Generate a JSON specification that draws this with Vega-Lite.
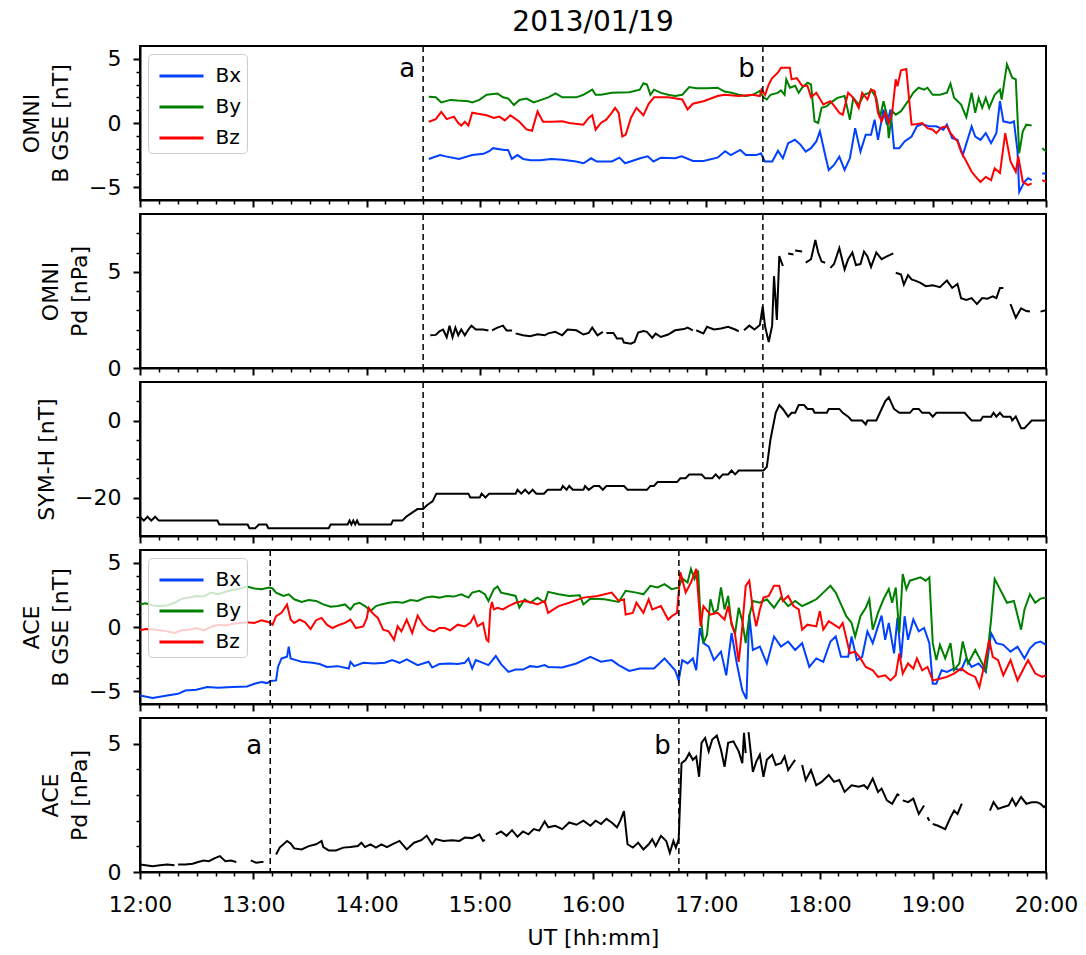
{
  "$schema": "https://vega.github.io/schema/vega-lite/v6.json",
  "background": "white",
  "padding": {"left": 19, "top": 8, "right": 8, "bottom": 0},
  "spacing": 14,
  "bounds": "flush",
  "resolve": {"legend": {"color": "independent"}},
  "config": {
    "font": "DejaVu Sans",
    "view": {"stroke": "black", "strokeWidth": 2},
    "mark": {"invalid": "break-paths-show-domains"},
    "axis": {"domainColor": "black", "domainWidth": 2, "tickColor": "black", "labelColor": "black", "labelFont": "DejaVu Sans", "labelFontSize": 22, "titleFont": "DejaVu Sans", "titleFontSize": 22, "titleFontWeight": "normal", "titleColor": "black", "grid": false, "titlePadding": 16, "titleLineHeight": 29, "labelOverlap": false, "tickSize": 7, "tickWidth": 2},
    "axisX": {"labelFlush": false, "labelPadding": 15},
    "axisY": {"labelPadding": 12}
  },
  "datasets": {
    "omniB": [
      {"t":873,"s":"Bx","v":-2.8},{"t":879,"s":"Bx","v":-2.5},{"t":882,"s":"Bx","v":-2.6},{"t":889,"s":"Bx","v":-2.8},{"t":896,"s":"Bx","v":-2.5},{"t":902,"s":"Bx","v":-2.4},{"t":905,"s":"Bx","v":-2.2},{"t":907,"s":"Bx","v":-1.96},{"t":913,"s":"Bx","v":-2.1},{"t":915,"s":"Bx","v":-2.1},{"t":917,"s":"Bx","v":-2.8},{"t":920,"s":"Bx","v":-2.5},{"t":923,"s":"Bx","v":-2.8},{"t":927,"s":"Bx","v":-2.9},{"t":932,"s":"Bx","v":-2.9},{"t":938,"s":"Bx","v":-2.8},{"t":944,"s":"Bx","v":-2.86},{"t":951,"s":"Bx","v":-3.0},{"t":955,"s":"Bx","v":-3.14},{"t":959,"s":"Bx","v":-2.75},{"t":962,"s":"Bx","v":-3.0},{"t":970,"s":"Bx","v":-3.0},{"t":974,"s":"Bx","v":-2.7},{"t":977,"s":"Bx","v":-3.14},{"t":985,"s":"Bx","v":-2.75},{"t":989,"s":"Bx","v":-2.6},{"t":992,"s":"Bx","v":-3.0},{"t":996,"s":"Bx","v":-2.7},{"t":1003.5,"s":"Bx","v":-2.75},{"t":1007,"s":"Bx","v":-2.6},{"t":1013,"s":"Bx","v":-2.96},{"t":1018.5,"s":"Bx","v":-2.96},{"t":1026,"s":"Bx","v":-2.7},{"t":1030,"s":"Bx","v":-2.2},{"t":1033,"s":"Bx","v":-2.5},{"t":1038,"s":"Bx","v":-2.1},{"t":1041,"s":"Bx","v":-2.5},{"t":1046.5,"s":"Bx","v":-2.5},{"t":1049,"s":"Bx","v":-2.36},{"t":1051,"s":"Bx","v":-3.0},{"t":1055,"s":"Bx","v":-3.0},{"t":1058,"s":"Bx","v":-2.16},{"t":1060.6,"s":"Bx","v":-2.75},{"t":1063.4,"s":"Bx","v":-1.57},{"t":1067,"s":"Bx","v":-1.31},{"t":1070,"s":"Bx","v":-1.7},{"t":1072.7,"s":"Bx","v":-2.23},{"t":1075.5,"s":"Bx","v":-1.96},{"t":1078.3,"s":"Bx","v":-1.44},{"t":1080.2,"s":"Bx","v":-0.65},{"t":1083,"s":"Bx","v":-2.5},{"t":1084.9,"s":"Bx","v":-3.66},{"t":1087.7,"s":"Bx","v":-3.27},{"t":1090.5,"s":"Bx","v":-2.62},{"t":1093.3,"s":"Bx","v":-3.66},{"t":1096.1,"s":"Bx","v":-2.75},{"t":1098.9,"s":"Bx","v":-0.4},{"t":1101.7,"s":"Bx","v":-2.23},{"t":1104.5,"s":"Bx","v":-0.92},{"t":1107.3,"s":"Bx","v":-0.92},{"t":1109.2,"s":"Bx","v":0.26},{"t":1111,"s":"Bx","v":-1.31},{"t":1113.9,"s":"Bx","v":1.05},{"t":1115.7,"s":"Bx","v":-0.13},{"t":1117.6,"s":"Bx","v":1.05},{"t":1119.5,"s":"Bx","v":-1.96},{"t":1122.3,"s":"Bx","v":-1.96},{"t":1125.1,"s":"Bx","v":-1.44},{"t":1128.8,"s":"Bx","v":-1.05},{"t":1131.6,"s":"Bx","v":-0.26},{"t":1134.4,"s":"Bx","v":-0.08},{"t":1138.2,"s":"Bx","v":-0.26},{"t":1141.9,"s":"Bx","v":-0.26},{"t":1145.6,"s":"Bx","v":-0.52},{"t":1147.5,"s":"Bx","v":-0.13},{"t":1150.3,"s":"Bx","v":-1.18},{"t":1153.1,"s":"Bx","v":-1.31},{"t":1155.9,"s":"Bx","v":-2.5},{"t":1158.7,"s":"Bx","v":-1.18},{"t":1160.6,"s":"Bx","v":-0.26},{"t":1162.5,"s":"Bx","v":-1.05},{"t":1165.3,"s":"Bx","v":-1.31},{"t":1168.1,"s":"Bx","v":-0.79},{"t":1170.9,"s":"Bx","v":-1.57},{"t":1173.7,"s":"Bx","v":-0.79},{"t":1175.6,"s":"Bx","v":1.7},{"t":1177.4,"s":"Bx","v":0.13},{"t":1181.2,"s":"Bx","v":0.0},{"t":1183,"s":"Bx","v":0.13},{"t":1184.9,"s":"Bx","v":-2.2},{"t":1185.8,"s":"Bx","v":-5.37},{"t":1188.6,"s":"Bx","v":-4.58},{"t":1190.5,"s":"Bx","v":-4.3},{"t":1192.4,"s":"Bx","v":-4.45},{"t":1195,"s":"Bx","v":null},{"t":1198,"s":"Bx","v":-3.93},{"t":1200,"s":"Bx","v":-3.93},
      {"t":873,"s":"By","v":2.04},{"t":876.7,"s":"By","v":2.0},{"t":879.6,"s":"By","v":1.6},{"t":884.4,"s":"By","v":1.8},{"t":888.3,"s":"By","v":1.75},{"t":894,"s":"By","v":1.7},{"t":896,"s":"By","v":1.6},{"t":899.8,"s":"By","v":1.8},{"t":903.7,"s":"By","v":2.2},{"t":909.4,"s":"By","v":2.3},{"t":912.3,"s":"By","v":2.0},{"t":915.2,"s":"By","v":1.9},{"t":918.1,"s":"By","v":1.4},{"t":921,"s":"By","v":1.8},{"t":924.8,"s":"By","v":1.9},{"t":928.6,"s":"By","v":1.6},{"t":932.5,"s":"By","v":1.8},{"t":936.3,"s":"By","v":2.0},{"t":940.2,"s":"By","v":2.3},{"t":943.7,"s":"By","v":2.0},{"t":947.4,"s":"By","v":2.0},{"t":951.2,"s":"By","v":2.0},{"t":954.9,"s":"By","v":2.2},{"t":959.6,"s":"By","v":2.6},{"t":961.4,"s":"By","v":2.2},{"t":964.2,"s":"By","v":2.2},{"t":969.9,"s":"By","v":2.35},{"t":979.2,"s":"By","v":2.4},{"t":984.8,"s":"By","v":2.6},{"t":986.7,"s":"By","v":3.1},{"t":988.6,"s":"By","v":3.0},{"t":990.4,"s":"By","v":2.2},{"t":992.3,"s":"By","v":2.6},{"t":996,"s":"By","v":2.35},{"t":999.8,"s":"By","v":2.2},{"t":1003.5,"s":"By","v":2.1},{"t":1007.3,"s":"By","v":2.2},{"t":1011,"s":"By","v":2.8},{"t":1014.7,"s":"By","v":2.7},{"t":1020.4,"s":"By","v":2.7},{"t":1026,"s":"By","v":2.75},{"t":1029.7,"s":"By","v":2.45},{"t":1033.4,"s":"By","v":2.35},{"t":1037.2,"s":"By","v":2.2},{"t":1040.9,"s":"By","v":2.1},{"t":1044.7,"s":"By","v":2.2},{"t":1048.4,"s":"By","v":2.5},{"t":1050.3,"s":"By","v":2.0},{"t":1052.1,"s":"By","v":1.83},{"t":1054,"s":"By","v":2.2},{"t":1057.8,"s":"By","v":2.35},{"t":1059.6,"s":"By","v":2.55},{"t":1061.5,"s":"By","v":2.2},{"t":1062.4,"s":"By","v":3.4},{"t":1064.3,"s":"By","v":2.75},{"t":1067.1,"s":"By","v":2.9},{"t":1069,"s":"By","v":2.35},{"t":1070.8,"s":"By","v":2.75},{"t":1073.7,"s":"By","v":3.14},{"t":1075.5,"s":"By","v":3.0},{"t":1076.5,"s":"By","v":1.44},{"t":1077.4,"s":"By","v":0.13},{"t":1079.3,"s":"By","v":0.0},{"t":1081.1,"s":"By","v":1.18},{"t":1083.9,"s":"By","v":1.31},{"t":1085.8,"s":"By","v":1.57},{"t":1089.5,"s":"By","v":1.96},{"t":1093.3,"s":"By","v":2.1},{"t":1096.1,"s":"By","v":0.26},{"t":1097.9,"s":"By","v":1.96},{"t":1100.8,"s":"By","v":1.44},{"t":1103.6,"s":"By","v":2.2},{"t":1106.4,"s":"By","v":2.36},{"t":1107.3,"s":"By","v":2.6},{"t":1110.1,"s":"By","v":1.96},{"t":1112,"s":"By","v":0.4},{"t":1113.9,"s":"By","v":1.7},{"t":1115.7,"s":"By","v":0.65},{"t":1116.7,"s":"By","v":-1.18},{"t":1118.5,"s":"By","v":0.92},{"t":1120.4,"s":"By","v":0.65},{"t":1123.2,"s":"By","v":0.92},{"t":1126.9,"s":"By","v":1.7},{"t":1129.7,"s":"By","v":2.36},{"t":1132.5,"s":"By","v":2.75},{"t":1135.4,"s":"By","v":2.6},{"t":1137.2,"s":"By","v":2.75},{"t":1140,"s":"By","v":2.2},{"t":1143.8,"s":"By","v":2.2},{"t":1147.5,"s":"By","v":2.36},{"t":1149.4,"s":"By","v":3.06},{"t":1151.3,"s":"By","v":1.96},{"t":1155,"s":"By","v":1.44},{"t":1157.8,"s":"By","v":0.45},{"t":1160.6,"s":"By","v":2.36},{"t":1162.5,"s":"By","v":0.79},{"t":1164.3,"s":"By","v":1.96},{"t":1166.2,"s":"By","v":1.18},{"t":1168.1,"s":"By","v":1.96},{"t":1169.9,"s":"By","v":1.18},{"t":1172.8,"s":"By","v":2.2},{"t":1175.6,"s":"By","v":2.6},{"t":1176.5,"s":"By","v":1.83},{"t":1179.3,"s":"By","v":4.58},{"t":1182.1,"s":"By","v":3.53},{"t":1184,"s":"By","v":3.4},{"t":1185.8,"s":"By","v":-2.36},{"t":1187.7,"s":"By","v":-0.65},{"t":1189.6,"s":"By","v":-0.13},{"t":1192.4,"s":"By","v":-0.2},{"t":1195,"s":"By","v":null},{"t":1198,"s":"By","v":-1.96},{"t":1200,"s":"By","v":-2.2},
      {"t":873,"s":"Bz","v":0.1},{"t":876.7,"s":"Bz","v":0.3},{"t":879.6,"s":"Bz","v":0.86},{"t":882.5,"s":"Bz","v":0.3},{"t":886.3,"s":"Bz","v":0.5},{"t":888.6,"s":"Bz","v":0.0},{"t":890.2,"s":"Bz","v":-0.2},{"t":892.1,"s":"Bz","v":0.1},{"t":894,"s":"Bz","v":-0.2},{"t":896,"s":"Bz","v":0.8},{"t":899.8,"s":"Bz","v":0.7},{"t":903.6,"s":"Bz","v":0.6},{"t":907.5,"s":"Bz","v":0.4},{"t":910.4,"s":"Bz","v":0.5},{"t":913.3,"s":"Bz","v":0.2},{"t":916.2,"s":"Bz","v":0.6},{"t":919.1,"s":"Bz","v":0.3},{"t":921,"s":"Bz","v":0.1},{"t":924.8,"s":"Bz","v":-0.5},{"t":927.7,"s":"Bz","v":-0.6},{"t":930.6,"s":"Bz","v":0.9},{"t":933.5,"s":"Bz","v":0.1},{"t":938.3,"s":"Bz","v":0.1},{"t":943.7,"s":"Bz","v":0.13},{"t":947.4,"s":"Bz","v":0.0},{"t":954.9,"s":"Bz","v":-0.13},{"t":957.7,"s":"Bz","v":0.4},{"t":959.6,"s":"Bz","v":0.6},{"t":961.4,"s":"Bz","v":-0.52},{"t":964.2,"s":"Bz","v":0.0},{"t":967,"s":"Bz","v":0.26},{"t":969.9,"s":"Bz","v":0.79},{"t":971.7,"s":"Bz","v":1.18},{"t":973.6,"s":"Bz","v":0.79},{"t":975.5,"s":"Bz","v":-1.05},{"t":977.3,"s":"Bz","v":-0.92},{"t":980.1,"s":"Bz","v":0.4},{"t":983,"s":"Bz","v":1.18},{"t":986.7,"s":"Bz","v":0.6},{"t":989.5,"s":"Bz","v":1.5},{"t":992.3,"s":"Bz","v":2.0},{"t":999.8,"s":"Bz","v":2.0},{"t":1007.3,"s":"Bz","v":1.83},{"t":1010.1,"s":"Bz","v":1.05},{"t":1012.9,"s":"Bz","v":1.5},{"t":1018.5,"s":"Bz","v":1.7},{"t":1026,"s":"Bz","v":2.1},{"t":1029.7,"s":"Bz","v":2.2},{"t":1037.2,"s":"Bz","v":2.1},{"t":1044.7,"s":"Bz","v":2.2},{"t":1048.4,"s":"Bz","v":2.1},{"t":1049.3,"s":"Bz","v":2.6},{"t":1051.2,"s":"Bz","v":2.2},{"t":1053.1,"s":"Bz","v":3.0},{"t":1054.9,"s":"Bz","v":3.5},{"t":1057.8,"s":"Bz","v":3.9},{"t":1059.6,"s":"Bz","v":4.3},{"t":1064.3,"s":"Bz","v":4.3},{"t":1065.2,"s":"Bz","v":3.4},{"t":1068,"s":"Bz","v":3.5},{"t":1070.8,"s":"Bz","v":2.9},{"t":1073.6,"s":"Bz","v":2.9},{"t":1075.5,"s":"Bz","v":2.0},{"t":1078.3,"s":"Bz","v":2.36},{"t":1082,"s":"Bz","v":1.44},{"t":1085.8,"s":"Bz","v":1.7},{"t":1088.6,"s":"Bz","v":1.18},{"t":1090.5,"s":"Bz","v":0.79},{"t":1092.3,"s":"Bz","v":0.65},{"t":1095.2,"s":"Bz","v":2.36},{"t":1097,"s":"Bz","v":2.1},{"t":1098.9,"s":"Bz","v":1.7},{"t":1100.8,"s":"Bz","v":1.18},{"t":1102.6,"s":"Bz","v":2.36},{"t":1105.4,"s":"Bz","v":1.83},{"t":1107.3,"s":"Bz","v":2.6},{"t":1109.2,"s":"Bz","v":2.5},{"t":1111,"s":"Bz","v":0.79},{"t":1112.9,"s":"Bz","v":0.13},{"t":1114.8,"s":"Bz","v":0.79},{"t":1116.7,"s":"Bz","v":0.0},{"t":1118.5,"s":"Bz","v":0.79},{"t":1120.4,"s":"Bz","v":3.4},{"t":1121.3,"s":"Bz","v":2.87},{"t":1123.2,"s":"Bz","v":4.1},{"t":1126,"s":"Bz","v":4.2},{"t":1127.9,"s":"Bz","v":1.18},{"t":1128.8,"s":"Bz","v":-0.13},{"t":1131.6,"s":"Bz","v":-0.08},{"t":1134.4,"s":"Bz","v":0.0},{"t":1137.2,"s":"Bz","v":-0.4},{"t":1140,"s":"Bz","v":-0.52},{"t":1141.9,"s":"Bz","v":-0.79},{"t":1144.7,"s":"Bz","v":-0.34},{"t":1147.5,"s":"Bz","v":-0.26},{"t":1149.4,"s":"Bz","v":-0.79},{"t":1153.1,"s":"Bz","v":-1.44},{"t":1155,"s":"Bz","v":-2.23},{"t":1157.8,"s":"Bz","v":-3.0},{"t":1160.6,"s":"Bz","v":-3.8},{"t":1163.4,"s":"Bz","v":-4.3},{"t":1165.3,"s":"Bz","v":-4.6},{"t":1168.1,"s":"Bz","v":-4.2},{"t":1170.9,"s":"Bz","v":-4.45},{"t":1172.8,"s":"Bz","v":-3.53},{"t":1175.6,"s":"Bz","v":-3.9},{"t":1178.4,"s":"Bz","v":-0.79},{"t":1181.2,"s":"Bz","v":-3.0},{"t":1184,"s":"Bz","v":-3.8},{"t":1185.3,"s":"Bz","v":-2.6},{"t":1187.7,"s":"Bz","v":-4.58},{"t":1190.5,"s":"Bz","v":-4.84},{"t":1192.4,"s":"Bz","v":-4.7},{"t":1195,"s":"Bz","v":null},{"t":1198,"s":"Bz","v":-4.45},{"t":1200,"s":"Bz","v":-4.58}
    ],
    "omniPd": [
      {"t":873.8,"v":1.7},{"t":876.7,"v":1.72},{"t":878.6,"v":1.9},{"t":880.6,"v":2.0},{"t":882.5,"v":1.6},{"t":884,"v":2.2},{"t":885.6,"v":1.6},{"t":887.1,"v":2.1},{"t":888.6,"v":1.7},{"t":890.2,"v":2.0},{"t":892.1,"v":1.7},{"t":894,"v":2.0},{"t":895.6,"v":2.2},{"t":897.9,"v":2.0},{"t":901.7,"v":2.0},{"t":904.6,"v":1.95},{"t":905.5,"v":null},{"t":906.5,"v":1.95},{"t":909.4,"v":2.1},{"t":912.3,"v":2.2},{"t":914.2,"v":1.95},{"t":917.1,"v":1.95},{"t":918,"v":null},{"t":919,"v":1.8},{"t":922.9,"v":1.7},{"t":926.7,"v":1.65},{"t":930.6,"v":1.75},{"t":934.4,"v":1.7},{"t":936.3,"v":1.8},{"t":940,"v":1.88},{"t":943.7,"v":1.7},{"t":946.5,"v":2.0},{"t":951.2,"v":1.96},{"t":954.9,"v":1.74},{"t":957.7,"v":1.82},{"t":959.6,"v":2.1},{"t":962.4,"v":1.7},{"t":965.2,"v":1.88},{"t":966,"v":null},{"t":967.1,"v":1.82},{"t":970.8,"v":1.82},{"t":972.7,"v":1.53},{"t":975.5,"v":1.53},{"t":976.4,"v":1.32},{"t":980.1,"v":1.26},{"t":982,"v":1.35},{"t":983.9,"v":1.84},{"t":986.7,"v":1.92},{"t":988.6,"v":1.88},{"t":991.4,"v":1.56},{"t":993.2,"v":1.79},{"t":996,"v":1.61},{"t":999.8,"v":1.74},{"t":1003.5,"v":1.96},{"t":1008.2,"v":2.02},{"t":1010.1,"v":2.1},{"t":1012.9,"v":1.96},{"t":1013.8,"v":null},{"t":1014.7,"v":1.96},{"t":1018.5,"v":1.79},{"t":1020.4,"v":2.14},{"t":1024.1,"v":2.0},{"t":1027.8,"v":2.05},{"t":1031.6,"v":2.14},{"t":1035.3,"v":2.0},{"t":1037.2,"v":1.91},{"t":1038.5,"v":null},{"t":1040,"v":1.96},{"t":1042.8,"v":2.2},{"t":1045.6,"v":2.0},{"t":1048.4,"v":2.23},{"t":1049.9,"v":3.2},{"t":1051.2,"v":2.14},{"t":1053.1,"v":1.35},{"t":1054.9,"v":2.2},{"t":1055.9,"v":4.77},{"t":1057.4,"v":2.5},{"t":1058.7,"v":5.82},{"t":1060.6,"v":5.3},{"t":1062,"v":null},{"t":1063.4,"v":5.95},{"t":1066.2,"v":5.9},{"t":1066.6,"v":null},{"t":1067.1,"v":6.1},{"t":1070.8,"v":6.05},{"t":1071.7,"v":null},{"t":1072.7,"v":5.47},{"t":1075.5,"v":5.65},{"t":1077.8,"v":6.65},{"t":1079.3,"v":6.0},{"t":1081.1,"v":5.53},{"t":1083,"v":5.47},{"t":1084.4,"v":null},{"t":1085.8,"v":5.2},{"t":1087.7,"v":5.4},{"t":1090.5,"v":6.23},{"t":1093.3,"v":5.12},{"t":1095.2,"v":5.65},{"t":1097.4,"v":6.0},{"t":1099.3,"v":5.35},{"t":1101.7,"v":5.4},{"t":1103.6,"v":6.05},{"t":1105.4,"v":5.8},{"t":1107.3,"v":5.25},{"t":1110.1,"v":6.0},{"t":1112.9,"v":5.65},{"t":1115.7,"v":5.8},{"t":1119.1,"v":5.95},{"t":1119.8,"v":null},{"t":1120.4,"v":4.95},{"t":1123.2,"v":4.86},{"t":1124.7,"v":4.33},{"t":1126.9,"v":4.82},{"t":1128.8,"v":4.6},{"t":1130.7,"v":4.54},{"t":1133.5,"v":4.42},{"t":1136.3,"v":4.25},{"t":1140,"v":4.3},{"t":1143.8,"v":4.2},{"t":1145.6,"v":4.37},{"t":1147.5,"v":4.54},{"t":1150.3,"v":4.16},{"t":1153.1,"v":4.37},{"t":1155,"v":3.63},{"t":1157.8,"v":3.54},{"t":1160.6,"v":3.63},{"t":1163.4,"v":3.32},{"t":1166.2,"v":3.63},{"t":1169,"v":3.6},{"t":1171.8,"v":3.72},{"t":1173.7,"v":3.63},{"t":1175.6,"v":4.16},{"t":1177.4,"v":4.16},{"t":1179,"v":null},{"t":1181.2,"v":3.32},{"t":1184,"v":2.61},{"t":1186.8,"v":3.1},{"t":1189.6,"v":2.96},{"t":1191.5,"v":2.93},{"t":1192.5,"v":null},{"t":1194.3,"v":2.93},{"t":1195.5,"v":null},{"t":1197.1,"v":2.93},{"t":1199.9,"v":3.0}
    ],
    "symh": [
      {"t":720,"v":-25},{"t":722,"v":-26},{"t":724,"v":-25},{"t":726,"v":-26},{"t":728,"v":-25},{"t":730,"v":-26},{"t":761,"v":-26},{"t":762,"v":-27},{"t":777,"v":-27},{"t":778,"v":-28},{"t":781,"v":-28},{"t":783,"v":-27},{"t":787,"v":-27},{"t":788,"v":-28},{"t":820,"v":-28},{"t":821,"v":-27},{"t":830,"v":-27},{"t":831,"v":-26},{"t":832,"v":-27},{"t":833,"v":-26},{"t":834,"v":-27},{"t":835,"v":-26},{"t":836,"v":-27},{"t":853,"v":-27},{"t":854,"v":-26},{"t":859,"v":-26},{"t":861,"v":-25},{"t":864,"v":-24},{"t":867,"v":-23},{"t":870,"v":-23},{"t":872,"v":-22},{"t":875,"v":-21},{"t":877,"v":-19},{"t":894,"v":-19},{"t":895,"v":-20},{"t":900,"v":-20},{"t":901,"v":-19},{"t":903,"v":-20},{"t":905,"v":-19},{"t":919,"v":-19},{"t":920,"v":-18},{"t":922,"v":-19},{"t":924,"v":-18},{"t":926,"v":-19},{"t":928,"v":-18},{"t":930,"v":-19},{"t":934,"v":-19},{"t":936,"v":-18},{"t":943,"v":-18},{"t":944,"v":-17},{"t":946,"v":-18},{"t":947.4,"v":-17},{"t":949.3,"v":-18},{"t":954.9,"v":-18},{"t":955.8,"v":-17},{"t":957.7,"v":-18},{"t":960.5,"v":-17},{"t":963.3,"v":-17},{"t":965.2,"v":-18},{"t":967.1,"v":-17},{"t":976.4,"v":-17},{"t":978.3,"v":-18},{"t":988.6,"v":-18},{"t":990.4,"v":-17},{"t":992.3,"v":-17},{"t":994.2,"v":-16},{"t":1004.5,"v":-16},{"t":1006.3,"v":-15},{"t":1009.1,"v":-15},{"t":1011,"v":-14},{"t":1017.5,"v":-14},{"t":1019.4,"v":-15},{"t":1023.2,"v":-15},{"t":1025,"v":-14},{"t":1026.9,"v":-15},{"t":1028.8,"v":-14},{"t":1031.6,"v":-14},{"t":1033.4,"v":-13},{"t":1035.3,"v":-14},{"t":1037.2,"v":-13},{"t":1050.3,"v":-13},{"t":1052.1,"v":-12},{"t":1054,"v":-5},{"t":1056.8,"v":2},{"t":1058.7,"v":4},{"t":1060.6,"v":3},{"t":1063.4,"v":1},{"t":1065.2,"v":2},{"t":1067.1,"v":2},{"t":1069,"v":4},{"t":1071.8,"v":4},{"t":1073.6,"v":3},{"t":1076.4,"v":3},{"t":1077.4,"v":2},{"t":1083.9,"v":2},{"t":1084.9,"v":3},{"t":1090.5,"v":3},{"t":1092.3,"v":2},{"t":1095.2,"v":1},{"t":1097,"v":0},{"t":1102.6,"v":0},{"t":1104.5,"v":-1},{"t":1105.4,"v":0},{"t":1110.1,"v":0},{"t":1114.8,"v":5},{"t":1116.7,"v":6},{"t":1119.5,"v":3},{"t":1122.3,"v":2},{"t":1127.9,"v":2},{"t":1129.7,"v":3},{"t":1132.6,"v":3},{"t":1134.4,"v":2},{"t":1138.2,"v":2},{"t":1140,"v":1},{"t":1141.9,"v":2},{"t":1156.9,"v":2},{"t":1158.7,"v":1},{"t":1160.6,"v":0},{"t":1165.3,"v":0},{"t":1166.6,"v":1},{"t":1170.9,"v":1},{"t":1172.2,"v":2},{"t":1173.7,"v":1},{"t":1175.6,"v":2},{"t":1177.4,"v":1},{"t":1181.2,"v":1},{"t":1182.1,"v":0},{"t":1184,"v":1},{"t":1186.8,"v":-2},{"t":1188.6,"v":-2},{"t":1190.5,"v":-1},{"t":1192.4,"v":0},{"t":1200,"v":0}
    ],
    "aceB": [
      {"t":720,"s":"Bx","v":-5.34},{"t":726.7,"s":"Bx","v":-5.53},{"t":734.4,"s":"Bx","v":-5.34},{"t":740.2,"s":"Bx","v":-5.21},{"t":744,"s":"Bx","v":-4.95},{"t":749.8,"s":"Bx","v":-4.89},{"t":755.6,"s":"Bx","v":-4.68},{"t":761.3,"s":"Bx","v":-4.74},{"t":769,"s":"Bx","v":-4.68},{"t":776.7,"s":"Bx","v":-4.63},{"t":780.6,"s":"Bx","v":-4.42},{"t":784.4,"s":"Bx","v":-4.29},{"t":787.3,"s":"Bx","v":-4.37},{"t":789.2,"s":"Bx","v":-4.21},{"t":792.1,"s":"Bx","v":-4.16},{"t":793.1,"s":"Bx","v":-3.11},{"t":795,"s":"Bx","v":-2.45},{"t":797.9,"s":"Bx","v":-2.32},{"t":798.8,"s":"Bx","v":-1.53},{"t":799.8,"s":"Bx","v":-2.45},{"t":802.7,"s":"Bx","v":-2.58},{"t":805.6,"s":"Bx","v":-2.71},{"t":811.3,"s":"Bx","v":-2.79},{"t":815.2,"s":"Bx","v":-2.89},{"t":819,"s":"Bx","v":-3.11},{"t":824.8,"s":"Bx","v":-3.05},{"t":830.6,"s":"Bx","v":-3.24},{"t":831.5,"s":"Bx","v":-2.71},{"t":833.5,"s":"Bx","v":-3.05},{"t":838.3,"s":"Bx","v":-2.79},{"t":844,"s":"Bx","v":-2.84},{"t":849.8,"s":"Bx","v":-2.79},{"t":853.6,"s":"Bx","v":-2.58},{"t":857.5,"s":"Bx","v":-2.79},{"t":861.3,"s":"Bx","v":-2.53},{"t":867.1,"s":"Bx","v":-2.97},{"t":872.9,"s":"Bx","v":-2.71},{"t":874.8,"s":"Bx","v":-3.16},{"t":878.6,"s":"Bx","v":-2.89},{"t":884.4,"s":"Bx","v":-2.84},{"t":888.3,"s":"Bx","v":-2.89},{"t":892.1,"s":"Bx","v":-2.79},{"t":894,"s":"Bx","v":-2.45},{"t":896,"s":"Bx","v":-3.24},{"t":897.9,"s":"Bx","v":-2.58},{"t":901.7,"s":"Bx","v":-2.79},{"t":904.6,"s":"Bx","v":-2.97},{"t":908.5,"s":"Bx","v":-2.26},{"t":911.3,"s":"Bx","v":-2.89},{"t":915.2,"s":"Bx","v":-3.5},{"t":919,"s":"Bx","v":-3.32},{"t":922.9,"s":"Bx","v":-3.32},{"t":926.7,"s":"Bx","v":-3.05},{"t":930.6,"s":"Bx","v":-3.11},{"t":934.4,"s":"Bx","v":-2.97},{"t":936.2,"s":"Bx","v":-3.11},{"t":943.7,"s":"Bx","v":-3.16},{"t":951.2,"s":"Bx","v":-2.84},{"t":958.6,"s":"Bx","v":-2.32},{"t":964.2,"s":"Bx","v":-2.71},{"t":969.9,"s":"Bx","v":-2.58},{"t":973.6,"s":"Bx","v":-2.97},{"t":979.2,"s":"Bx","v":-3.42},{"t":984.8,"s":"Bx","v":-3.24},{"t":992.3,"s":"Bx","v":-3.24},{"t":997.9,"s":"Bx","v":-2.45},{"t":1003.5,"s":"Bx","v":-3.37},{"t":1005.4,"s":"Bx","v":-4.16},{"t":1007.3,"s":"Bx","v":-2.58},{"t":1010.1,"s":"Bx","v":-2.84},{"t":1012.9,"s":"Bx","v":-2.45},{"t":1014.7,"s":"Bx","v":-3.37},{"t":1016.6,"s":"Bx","v":-0.08},{"t":1018.5,"s":"Bx","v":-1.26},{"t":1021.3,"s":"Bx","v":-1.53},{"t":1024.1,"s":"Bx","v":-2.58},{"t":1027.8,"s":"Bx","v":-1.92},{"t":1030.6,"s":"Bx","v":-3.76},{"t":1033.4,"s":"Bx","v":-0.47},{"t":1036.2,"s":"Bx","v":-2.84},{"t":1039.1,"s":"Bx","v":-4.95},{"t":1041.3,"s":"Bx","v":-5.61},{"t":1042.8,"s":"Bx","v":0.97},{"t":1044.7,"s":"Bx","v":-1.79},{"t":1048.4,"s":"Bx","v":-1.53},{"t":1052.1,"s":"Bx","v":-2.84},{"t":1055.9,"s":"Bx","v":-0.74},{"t":1059.6,"s":"Bx","v":-1.53},{"t":1063.4,"s":"Bx","v":-1.13},{"t":1067.1,"s":"Bx","v":-1.79},{"t":1070.8,"s":"Bx","v":-1.26},{"t":1074.6,"s":"Bx","v":-3.11},{"t":1078.3,"s":"Bx","v":-2.45},{"t":1082,"s":"Bx","v":-2.71},{"t":1085.8,"s":"Bx","v":-1.13},{"t":1088.6,"s":"Bx","v":-0.74},{"t":1091.4,"s":"Bx","v":-2.32},{"t":1095.2,"s":"Bx","v":-2.32},{"t":1097,"s":"Bx","v":-0.74},{"t":1099.8,"s":"Bx","v":-2.58},{"t":1102.6,"s":"Bx","v":-2.32},{"t":1105.4,"s":"Bx","v":-0.34},{"t":1108.2,"s":"Bx","v":-1.26},{"t":1111,"s":"Bx","v":0.05},{"t":1112.9,"s":"Bx","v":0.89},{"t":1114.8,"s":"Bx","v":-1.0},{"t":1116.7,"s":"Bx","v":0.32},{"t":1119.5,"s":"Bx","v":-2.05},{"t":1121.3,"s":"Bx","v":0.71},{"t":1123.2,"s":"Bx","v":-2.45},{"t":1125.1,"s":"Bx","v":0.84},{"t":1126.9,"s":"Bx","v":-1.0},{"t":1129.7,"s":"Bx","v":0.58},{"t":1132.6,"s":"Bx","v":-0.34},{"t":1135.4,"s":"Bx","v":-0.08},{"t":1138.2,"s":"Bx","v":-1.26},{"t":1140,"s":"Bx","v":-4.42},{"t":1141.9,"s":"Bx","v":-4.42},{"t":1144.7,"s":"Bx","v":-3.37},{"t":1147.5,"s":"Bx","v":-3.5},{"t":1151.3,"s":"Bx","v":-3.24},{"t":1155,"s":"Bx","v":-3.37},{"t":1157.8,"s":"Bx","v":-2.45},{"t":1160.6,"s":"Bx","v":-3.11},{"t":1164.3,"s":"Bx","v":-2.84},{"t":1168.1,"s":"Bx","v":-3.5},{"t":1170.9,"s":"Bx","v":-0.47},{"t":1173.7,"s":"Bx","v":-1.26},{"t":1177.4,"s":"Bx","v":-1.39},{"t":1181.2,"s":"Bx","v":-1.92},{"t":1184.9,"s":"Bx","v":-1.53},{"t":1188.6,"s":"Bx","v":-2.45},{"t":1191.5,"s":"Bx","v":-1.66},{"t":1194.3,"s":"Bx","v":-1.26},{"t":1197.1,"s":"Bx","v":-1.13},{"t":1199.9,"s":"Bx","v":-1.39},
      {"t":720,"s":"By","v":1.76},{"t":722.9,"s":"By","v":1.84},{"t":726.7,"s":"By","v":1.68},{"t":730.6,"s":"By","v":1.63},{"t":734.4,"s":"By","v":1.68},{"t":738.3,"s":"By","v":1.89},{"t":742.1,"s":"By","v":2.21},{"t":746,"s":"By","v":2.29},{"t":749.8,"s":"By","v":2.42},{"t":753.7,"s":"By","v":2.37},{"t":757.5,"s":"By","v":2.68},{"t":761.3,"s":"By","v":2.55},{"t":765.2,"s":"By","v":2.74},{"t":769,"s":"By","v":2.89},{"t":772.9,"s":"By","v":3.0},{"t":776.7,"s":"By","v":3.16},{"t":780.6,"s":"By","v":3.0},{"t":784.4,"s":"By","v":2.95},{"t":788.3,"s":"By","v":3.08},{"t":790.2,"s":"By","v":3.0},{"t":792.1,"s":"By","v":2.68},{"t":796,"s":"By","v":2.42},{"t":798.8,"s":"By","v":2.55},{"t":801.7,"s":"By","v":2.16},{"t":805.6,"s":"By","v":1.95},{"t":809.4,"s":"By","v":2.1},{"t":813.3,"s":"By","v":2.03},{"t":817.1,"s":"By","v":1.76},{"t":821,"s":"By","v":1.58},{"t":824.8,"s":"By","v":1.63},{"t":828.6,"s":"By","v":1.76},{"t":831.5,"s":"By","v":1.37},{"t":833.5,"s":"By","v":1.76},{"t":836.3,"s":"By","v":1.89},{"t":839.2,"s":"By","v":1.63},{"t":842.1,"s":"By","v":1.24},{"t":845,"s":"By","v":1.63},{"t":847.9,"s":"By","v":1.76},{"t":851.7,"s":"By","v":1.89},{"t":855.6,"s":"By","v":1.95},{"t":859.4,"s":"By","v":1.89},{"t":863.3,"s":"By","v":2.1},{"t":867.1,"s":"By","v":2.03},{"t":871,"s":"By","v":2.29},{"t":874.8,"s":"By","v":2.37},{"t":878.6,"s":"By","v":2.29},{"t":882.5,"s":"By","v":2.42},{"t":886.3,"s":"By","v":2.37},{"t":890.2,"s":"By","v":2.55},{"t":894,"s":"By","v":2.29},{"t":896,"s":"By","v":2.68},{"t":899.8,"s":"By","v":2.82},{"t":902.7,"s":"By","v":2.55},{"t":904.6,"s":"By","v":2.03},{"t":907.5,"s":"By","v":2.95},{"t":909.4,"s":"By","v":3.16},{"t":911.3,"s":"By","v":2.68},{"t":915.2,"s":"By","v":2.55},{"t":919,"s":"By","v":2.42},{"t":921,"s":"By","v":1.5},{"t":923.8,"s":"By","v":2.16},{"t":926.7,"s":"By","v":1.89},{"t":930.6,"s":"By","v":2.29},{"t":934.4,"s":"By","v":1.89},{"t":936.2,"s":"By","v":2.74},{"t":941.8,"s":"By","v":2.55},{"t":947.4,"s":"By","v":2.42},{"t":953,"s":"By","v":2.47},{"t":954.9,"s":"By","v":1.76},{"t":958.6,"s":"By","v":2.21},{"t":966.1,"s":"By","v":2.16},{"t":973.6,"s":"By","v":1.95},{"t":977.3,"s":"By","v":2.82},{"t":983,"s":"By","v":2.68},{"t":986.7,"s":"By","v":2.55},{"t":990.4,"s":"By","v":3.21},{"t":994.2,"s":"By","v":3.08},{"t":997.9,"s":"By","v":3.34},{"t":1001.7,"s":"By","v":2.95},{"t":1005.4,"s":"By","v":3.08},{"t":1007.3,"s":"By","v":3.79},{"t":1010.1,"s":"By","v":3.47},{"t":1011.9,"s":"By","v":4.53},{"t":1013.8,"s":"By","v":3.74},{"t":1015.7,"s":"By","v":4.39},{"t":1016.6,"s":"By","v":1.76},{"t":1018.5,"s":"By","v":-1.26},{"t":1020.4,"s":"By","v":-0.61},{"t":1022.2,"s":"By","v":2.16},{"t":1024.1,"s":"By","v":1.1},{"t":1026,"s":"By","v":1.37},{"t":1027.8,"s":"By","v":3.08},{"t":1029.7,"s":"By","v":1.37},{"t":1031.6,"s":"By","v":2.42},{"t":1033.4,"s":"By","v":0.18},{"t":1035.3,"s":"By","v":-0.47},{"t":1037.2,"s":"By","v":1.5},{"t":1039.1,"s":"By","v":0.45},{"t":1040.9,"s":"By","v":-1.26},{"t":1042.8,"s":"By","v":0.84},{"t":1044.7,"s":"By","v":2.03},{"t":1048.4,"s":"By","v":1.89},{"t":1052.1,"s":"By","v":2.16},{"t":1055.9,"s":"By","v":1.5},{"t":1059.6,"s":"By","v":2.29},{"t":1063.4,"s":"By","v":1.63},{"t":1067.1,"s":"By","v":2.03},{"t":1070.8,"s":"By","v":1.63},{"t":1074.6,"s":"By","v":1.89},{"t":1078.3,"s":"By","v":2.16},{"t":1082,"s":"By","v":2.68},{"t":1085.8,"s":"By","v":3.21},{"t":1088.6,"s":"By","v":2.68},{"t":1091.4,"s":"By","v":1.76},{"t":1094.2,"s":"By","v":0.84},{"t":1097,"s":"By","v":0.32},{"t":1098.9,"s":"By","v":-0.74},{"t":1101.7,"s":"By","v":0.84},{"t":1104.5,"s":"By","v":1.5},{"t":1106.4,"s":"By","v":2.16},{"t":1108.2,"s":"By","v":-0.21},{"t":1111,"s":"By","v":1.1},{"t":1113.9,"s":"By","v":2.16},{"t":1116.7,"s":"By","v":2.95},{"t":1118.5,"s":"By","v":1.89},{"t":1120.4,"s":"By","v":3.08},{"t":1122.3,"s":"By","v":-0.47},{"t":1124.1,"s":"By","v":4.13},{"t":1126,"s":"By","v":2.95},{"t":1127.9,"s":"By","v":3.61},{"t":1130.7,"s":"By","v":3.74},{"t":1133.5,"s":"By","v":3.87},{"t":1136.3,"s":"By","v":3.61},{"t":1138.2,"s":"By","v":3.87},{"t":1140,"s":"By","v":-1.26},{"t":1141.9,"s":"By","v":-2.58},{"t":1143.8,"s":"By","v":-1.39},{"t":1146.6,"s":"By","v":-2.45},{"t":1149.4,"s":"By","v":-1.26},{"t":1151.3,"s":"By","v":-3.37},{"t":1154.1,"s":"By","v":-2.84},{"t":1155.9,"s":"By","v":-1.13},{"t":1158.7,"s":"By","v":-2.84},{"t":1162.5,"s":"By","v":-1.79},{"t":1165.3,"s":"By","v":-2.58},{"t":1168.1,"s":"By","v":-3.37},{"t":1170.9,"s":"By","v":0.58},{"t":1172.8,"s":"By","v":3.74},{"t":1175.6,"s":"By","v":2.95},{"t":1179.3,"s":"By","v":1.89},{"t":1183,"s":"By","v":2.03},{"t":1186.8,"s":"By","v":-0.21},{"t":1188.6,"s":"By","v":1.37},{"t":1191.5,"s":"By","v":2.55},{"t":1194.3,"s":"By","v":1.89},{"t":1197.1,"s":"By","v":2.21},{"t":1199.9,"s":"By","v":2.29},
      {"t":720,"s":"Bz","v":-0.26},{"t":722.9,"s":"Bz","v":-0.16},{"t":728.7,"s":"Bz","v":-0.21},{"t":734.4,"s":"Bz","v":-0.34},{"t":738.3,"s":"Bz","v":-0.47},{"t":742.1,"s":"Bz","v":-0.26},{"t":746,"s":"Bz","v":-0.21},{"t":749.8,"s":"Bz","v":-0.08},{"t":753.7,"s":"Bz","v":-0.26},{"t":757.5,"s":"Bz","v":0.0},{"t":761.3,"s":"Bz","v":0.18},{"t":765.2,"s":"Bz","v":0.11},{"t":769,"s":"Bz","v":0.26},{"t":772.9,"s":"Bz","v":0.32},{"t":776.7,"s":"Bz","v":0.37},{"t":780.6,"s":"Bz","v":0.32},{"t":784.4,"s":"Bz","v":0.53},{"t":788.3,"s":"Bz","v":0.37},{"t":790.2,"s":"Bz","v":0.18},{"t":792.1,"s":"Bz","v":0.84},{"t":795,"s":"Bz","v":1.1},{"t":797.9,"s":"Bz","v":1.76},{"t":799.8,"s":"Bz","v":0.58},{"t":801.7,"s":"Bz","v":0.32},{"t":804.6,"s":"Bz","v":0.58},{"t":807.5,"s":"Bz","v":0.37},{"t":810.4,"s":"Bz","v":-0.16},{"t":813.3,"s":"Bz","v":0.53},{"t":816.2,"s":"Bz","v":0.71},{"t":819,"s":"Bz","v":0.18},{"t":821.9,"s":"Bz","v":-0.08},{"t":825.8,"s":"Bz","v":0.18},{"t":828.6,"s":"Bz","v":0.32},{"t":831.5,"s":"Bz","v":0.58},{"t":834.4,"s":"Bz","v":-0.08},{"t":838.3,"s":"Bz","v":0.05},{"t":840.2,"s":"Bz","v":0.71},{"t":841.1,"s":"Bz","v":1.5},{"t":843.1,"s":"Bz","v":1.1},{"t":846,"s":"Bz","v":0.71},{"t":848.8,"s":"Bz","v":-0.21},{"t":851.7,"s":"Bz","v":-0.34},{"t":854.6,"s":"Bz","v":-1.0},{"t":856.5,"s":"Bz","v":0.05},{"t":858.5,"s":"Bz","v":-0.34},{"t":861.3,"s":"Bz","v":0.58},{"t":864.2,"s":"Bz","v":-0.47},{"t":867.1,"s":"Bz","v":0.89},{"t":870,"s":"Bz","v":0.18},{"t":872.9,"s":"Bz","v":-0.21},{"t":875.8,"s":"Bz","v":-0.34},{"t":878.6,"s":"Bz","v":-0.08},{"t":881.5,"s":"Bz","v":-0.08},{"t":884.4,"s":"Bz","v":-0.26},{"t":888.3,"s":"Bz","v":0.18},{"t":892.1,"s":"Bz","v":0.05},{"t":895,"s":"Bz","v":0.32},{"t":896.9,"s":"Bz","v":0.84},{"t":898.8,"s":"Bz","v":0.05},{"t":901.7,"s":"Bz","v":0.32},{"t":903.6,"s":"Bz","v":-1.0},{"t":904.6,"s":"Bz","v":-1.13},{"t":905.6,"s":"Bz","v":1.37},{"t":906.5,"s":"Bz","v":1.95},{"t":907.5,"s":"Bz","v":1.37},{"t":909.4,"s":"Bz","v":1.5},{"t":912.3,"s":"Bz","v":1.37},{"t":915.2,"s":"Bz","v":1.63},{"t":919,"s":"Bz","v":1.89},{"t":922.9,"s":"Bz","v":2.03},{"t":926.7,"s":"Bz","v":1.95},{"t":930.6,"s":"Bz","v":1.76},{"t":934.4,"s":"Bz","v":2.03},{"t":936.2,"s":"Bz","v":1.1},{"t":941.8,"s":"Bz","v":1.63},{"t":947.4,"s":"Bz","v":1.89},{"t":954.9,"s":"Bz","v":2.29},{"t":962.4,"s":"Bz","v":2.42},{"t":969.9,"s":"Bz","v":2.68},{"t":973.6,"s":"Bz","v":2.03},{"t":976.4,"s":"Bz","v":2.16},{"t":977.3,"s":"Bz","v":0.97},{"t":981.1,"s":"Bz","v":1.1},{"t":983,"s":"Bz","v":1.89},{"t":986.7,"s":"Bz","v":1.1},{"t":989.5,"s":"Bz","v":2.16},{"t":991.4,"s":"Bz","v":1.37},{"t":996,"s":"Bz","v":1.63},{"t":999.8,"s":"Bz","v":0.58},{"t":1001.7,"s":"Bz","v":0.84},{"t":1004.5,"s":"Bz","v":1.1},{"t":1006.3,"s":"Bz","v":4.26},{"t":1009.1,"s":"Bz","v":2.68},{"t":1011.9,"s":"Bz","v":3.47},{"t":1014.7,"s":"Bz","v":4.53},{"t":1017,"s":"Bz","v":0.05},{"t":1018.5,"s":"Bz","v":1.63},{"t":1022.2,"s":"Bz","v":0.97},{"t":1026,"s":"Bz","v":1.1},{"t":1029.7,"s":"Bz","v":0.58},{"t":1031.6,"s":"Bz","v":1.63},{"t":1033.4,"s":"Bz","v":0.32},{"t":1035.3,"s":"Bz","v":-0.61},{"t":1037.2,"s":"Bz","v":-2.71},{"t":1039.1,"s":"Bz","v":0.05},{"t":1040.9,"s":"Bz","v":3.21},{"t":1042.8,"s":"Bz","v":3.61},{"t":1044.7,"s":"Bz","v":1.37},{"t":1046.5,"s":"Bz","v":0.05},{"t":1048.4,"s":"Bz","v":1.37},{"t":1050.3,"s":"Bz","v":2.29},{"t":1053.1,"s":"Bz","v":2.42},{"t":1055.9,"s":"Bz","v":3.21},{"t":1058.7,"s":"Bz","v":3.21},{"t":1060.6,"s":"Bz","v":2.03},{"t":1063.4,"s":"Bz","v":2.42},{"t":1066.2,"s":"Bz","v":1.63},{"t":1069,"s":"Bz","v":1.37},{"t":1070.8,"s":"Bz","v":-0.21},{"t":1073.6,"s":"Bz","v":0.18},{"t":1078.3,"s":"Bz","v":0.05},{"t":1080.2,"s":"Bz","v":1.24},{"t":1082,"s":"Bz","v":-0.21},{"t":1084.9,"s":"Bz","v":0.45},{"t":1087.7,"s":"Bz","v":0.18},{"t":1090.5,"s":"Bz","v":-0.08},{"t":1092.3,"s":"Bz","v":0.32},{"t":1094.2,"s":"Bz","v":-0.87},{"t":1096.1,"s":"Bz","v":-2.05},{"t":1098.9,"s":"Bz","v":-1.92},{"t":1101.7,"s":"Bz","v":-2.45},{"t":1104.5,"s":"Bz","v":-3.11},{"t":1108.2,"s":"Bz","v":-3.37},{"t":1111,"s":"Bz","v":-3.89},{"t":1114.8,"s":"Bz","v":-3.76},{"t":1117.6,"s":"Bz","v":-4.16},{"t":1120.4,"s":"Bz","v":-3.76},{"t":1122.3,"s":"Bz","v":-2.05},{"t":1124.1,"s":"Bz","v":-3.63},{"t":1126.9,"s":"Bz","v":-2.84},{"t":1129.7,"s":"Bz","v":-3.24},{"t":1131.6,"s":"Bz","v":-2.45},{"t":1134.4,"s":"Bz","v":-3.37},{"t":1137.2,"s":"Bz","v":-3.11},{"t":1140,"s":"Bz","v":-4.16},{"t":1143.8,"s":"Bz","v":-4.03},{"t":1147.5,"s":"Bz","v":-3.89},{"t":1151.3,"s":"Bz","v":-3.63},{"t":1155,"s":"Bz","v":-3.24},{"t":1158.7,"s":"Bz","v":-3.63},{"t":1162.5,"s":"Bz","v":-3.89},{"t":1164.7,"s":"Bz","v":-4.68},{"t":1167.1,"s":"Bz","v":-3.11},{"t":1169.9,"s":"Bz","v":-1.0},{"t":1171.8,"s":"Bz","v":-2.32},{"t":1174.6,"s":"Bz","v":-2.58},{"t":1177.4,"s":"Bz","v":-3.76},{"t":1181.2,"s":"Bz","v":-2.58},{"t":1184.9,"s":"Bz","v":-4.16},{"t":1187.7,"s":"Bz","v":-3.37},{"t":1190.5,"s":"Bz","v":-2.58},{"t":1194.3,"s":"Bz","v":-3.63},{"t":1198,"s":"Bz","v":-3.89},{"t":1199.9,"s":"Bz","v":-3.76}
    ],
    "acePd": [
      {"t":720,"v":0.29},{"t":722.9,"v":0.26},{"t":726.7,"v":0.22},{"t":730.6,"v":0.26},{"t":734.4,"v":0.29},{"t":738.3,"v":0.26},{"t":739,"v":null},{"t":740.2,"v":0.29},{"t":744,"v":0.29},{"t":747.9,"v":0.32},{"t":750.8,"v":0.39},{"t":753.7,"v":0.45},{"t":756.5,"v":0.42},{"t":759.4,"v":0.53},{"t":762.3,"v":0.62},{"t":765.2,"v":0.42},{"t":768.1,"v":0.45},{"t":771,"v":0.39},{"t":775,"v":null},{"t":778.7,"v":0.45},{"t":781.5,"v":0.36},{"t":784.4,"v":0.39},{"t":785.4,"v":0.39},{"t":787,"v":null},{"t":792.1,"v":0.68},{"t":794,"v":0.95},{"t":797.9,"v":1.21},{"t":799.8,"v":1.11},{"t":801.7,"v":0.92},{"t":805.6,"v":0.88},{"t":809.4,"v":1.01},{"t":813.3,"v":1.08},{"t":816.2,"v":1.21},{"t":817.1,"v":0.97},{"t":820,"v":0.84},{"t":823.8,"v":0.84},{"t":827.7,"v":0.95},{"t":831.5,"v":0.97},{"t":835.4,"v":1.01},{"t":837.3,"v":1.14},{"t":839.2,"v":0.97},{"t":842.1,"v":1.08},{"t":845,"v":0.95},{"t":847.9,"v":1.08},{"t":850.8,"v":0.97},{"t":853.6,"v":1.08},{"t":857.5,"v":1.21},{"t":861.3,"v":0.88},{"t":865.2,"v":1.14},{"t":869,"v":1.24},{"t":871.9,"v":1.41},{"t":874.8,"v":1.08},{"t":876.7,"v":1.28},{"t":880.6,"v":1.21},{"t":885.4,"v":1.24},{"t":889.2,"v":1.21},{"t":892.1,"v":1.34},{"t":896,"v":1.32},{"t":899.8,"v":1.47},{"t":901.7,"v":1.21},{"t":902.7,"v":1.25},{"t":905,"v":null},{"t":908.5,"v":1.47},{"t":911.3,"v":1.58},{"t":914.2,"v":1.41},{"t":917.1,"v":1.63},{"t":920,"v":1.37},{"t":922.9,"v":1.58},{"t":925.8,"v":1.47},{"t":928.6,"v":1.67},{"t":931.5,"v":1.61},{"t":934.4,"v":1.97},{"t":936.3,"v":1.74},{"t":940,"v":1.8},{"t":943.7,"v":1.67},{"t":947.4,"v":1.93},{"t":951.2,"v":1.84},{"t":954.9,"v":2.0},{"t":958.6,"v":1.8},{"t":961.4,"v":2.0},{"t":964.3,"v":1.87},{"t":967.1,"v":2.07},{"t":969.9,"v":1.93},{"t":972.7,"v":1.74},{"t":974.5,"v":2.0},{"t":976.4,"v":2.37},{"t":978.3,"v":1.08},{"t":981.1,"v":0.95},{"t":983.9,"v":1.14},{"t":986.7,"v":0.88},{"t":989.5,"v":1.08},{"t":991.4,"v":1.28},{"t":993.2,"v":1.01},{"t":996,"v":1.41},{"t":998.8,"v":1.21},{"t":1000.7,"v":0.75},{"t":1002.6,"v":1.21},{"t":1003.9,"v":0.95},{"t":1005.4,"v":1.28},{"t":1006.9,"v":4.24},{"t":1009.1,"v":4.37},{"t":1011,"v":4.63},{"t":1012.9,"v":4.37},{"t":1014.7,"v":4.5},{"t":1016.2,"v":3.71},{"t":1017.5,"v":5.03},{"t":1019.4,"v":5.22},{"t":1021.3,"v":4.7},{"t":1023.2,"v":5.16},{"t":1025.6,"v":5.32},{"t":1027.8,"v":4.76},{"t":1029.7,"v":4.1},{"t":1031.6,"v":5.03},{"t":1034.4,"v":5.09},{"t":1037.2,"v":4.7},{"t":1039.1,"v":4.24},{"t":1040,"v":5.42},{"t":1040.9,"v":4.63},{"t":1041.6,"v":null},{"t":1042.4,"v":5.45},{"t":1044.7,"v":3.9},{"t":1046.5,"v":4.3},{"t":1048.4,"v":4.57},{"t":1050.3,"v":3.71},{"t":1052.1,"v":4.37},{"t":1054.9,"v":4.57},{"t":1056.8,"v":4.17},{"t":1059.6,"v":4.24},{"t":1061.5,"v":4.5},{"t":1063.4,"v":3.97},{"t":1065.2,"v":4.17},{"t":1067.1,"v":4.37},{"t":1069,"v":null},{"t":1070.8,"v":4.17},{"t":1072.7,"v":3.58},{"t":1075.5,"v":3.97},{"t":1078.3,"v":3.38},{"t":1081.1,"v":3.51},{"t":1084.9,"v":3.78},{"t":1087.7,"v":3.51},{"t":1090.5,"v":3.58},{"t":1093.3,"v":3.12},{"t":1097,"v":3.38},{"t":1100.8,"v":3.32},{"t":1103.6,"v":3.38},{"t":1105.4,"v":3.25},{"t":1108.2,"v":3.64},{"t":1111,"v":3.12},{"t":1112.9,"v":3.25},{"t":1115.7,"v":2.79},{"t":1118.5,"v":2.66},{"t":1121.3,"v":3.03},{"t":1122.3,"v":2.99},{"t":1123.2,"v":null},{"t":1124.1,"v":2.79},{"t":1127,"v":2.72},{"t":1129.7,"v":2.86},{"t":1132.6,"v":2.26},{"t":1135.4,"v":2.59},{"t":1136.3,"v":null},{"t":1137.2,"v":2.13},{"t":1138.2,"v":2.0},{"t":1139,"v":null},{"t":1140,"v":1.87},{"t":1142.8,"v":1.8},{"t":1146.6,"v":1.67},{"t":1149.4,"v":2.13},{"t":1151.3,"v":2.39},{"t":1153.1,"v":2.26},{"t":1155.4,"v":2.66},{"t":1160,"v":null},{"t":1170.3,"v":2.39},{"t":1172.2,"v":2.72},{"t":1174.6,"v":2.46},{"t":1177.4,"v":2.53},{"t":1180.2,"v":2.59},{"t":1182.1,"v":2.86},{"t":1184,"v":2.59},{"t":1186.8,"v":2.92},{"t":1189.6,"v":2.66},{"t":1192.4,"v":2.72},{"t":1195.2,"v":2.72},{"t":1197.1,"v":2.66},{"t":1198.9,"v":2.53},{"t":1199.9,"v":2.59}
    ],
    "omniEvents": [{"t":870,"lab":"a"},{"t":1050,"lab":"b"}],
    "aceEvents": [{"t":789,"lab":"a"},{"t":1005.5,"lab":"b"}]
  },
  "vconcat": [
    {
      "width": 906, "height": 154,
      "title": {"text": "2013/01/19", "fontSize": 28, "font": "DejaVu Sans", "fontWeight": "normal", "color": "black", "offset": 8, "anchor": "middle", "frame": "group"},
      "resolve": {"axis": {"x": "independent", "y": "independent"}},
      "layer": [
        {"data": {"name": "omniB"}, "mark": {"type": "line", "strokeWidth": 2, "clip": true},
         "encoding": {
           "x": {"field": "t", "type": "quantitative", "scale": {"domain": [720, 1200], "nice": false, "zero": false},
                 "axis": {"orient": "bottom", "values": [720,780,840,900,960,1020,1080,1140,1200], "labels": false, "title": null}},
           "y": {"field": "v", "type": "quantitative", "scale": {"domain": [-6, 6], "nice": false, "zero": false},
                 "axis": {"orient": "left", "values": [-5,0,5], "title": ["OMNI", "B GSE [nT]"]}},
           "color": {"field": "s", "type": "nominal", "scale": {"domain": ["Bx", "By", "Bz"], "range": ["#0040ff", "#008000", "#ff0000"]},
                     "legend": {"orient": "top-left", "offset": 8, "title": null, "symbolType": "M-1.42,0H1.42", "symbolSize": 961, "symbolStrokeWidth": 3, "symbolOffset": 11.5, "labelOffset": 17, "labelFontSize": 20, "labelFont": "DejaVu Sans", "labelColor": "black", "rowPadding": 4, "padding": 5, "fillColor": "rgba(255,255,255,0.8)", "strokeColor": "#cccccc", "cornerRadius": 4}}
         }},
        {"data": {"name": "omniEvents"}, "mark": {"type": "point", "opacity": 0},
         "encoding": {
           "x": {"field": "t", "type": "quantitative", "axis": {"orient": "bottom", "values": [730,740,750,760,770,790,800,810,820,830,850,860,870,880,890,910,920,930,940,950,970,980,990,1000,1010,1030,1040,1050,1060,1070,1090,1100,1110,1120,1130,1150,1160,1170,1180,1190], "labels": false, "domain": false, "title": null, "tickSize": 4, "tickWidth": 1.5}},
           "y": {"datum": 0, "type": "quantitative", "axis": {"orient": "left", "values": [-4,-3,-2,-1,1,2,3,4], "labels": false, "domain": false, "title": null, "tickSize": 4, "tickWidth": 1.5}}
         }},
        {"data": {"name": "omniEvents"}, "mark": {"type": "rule", "strokeDash": [6, 4], "strokeWidth": 1.5, "color": "black"},
         "encoding": {"x": {"field": "t", "type": "quantitative", "axis": null}}},
        {"data": {"name": "omniEvents"}, "mark": {"type": "text", "align": "right", "baseline": "middle", "dx": -8, "fontSize": 26, "font": "DejaVu Sans", "color": "black"},
         "encoding": {"x": {"field": "t", "type": "quantitative", "axis": null}, "y": {"datum": 4.2, "type": "quantitative", "axis": null}, "text": {"field": "lab"}}}
      ]
    },
    {
      "width": 906, "height": 154,
      "resolve": {"axis": {"x": "independent", "y": "independent"}},
      "layer": [
        {"data": {"name": "omniPd"}, "mark": {"type": "line", "strokeWidth": 2, "color": "black", "clip": true},
         "encoding": {
           "x": {"field": "t", "type": "quantitative", "scale": {"domain": [720, 1200], "nice": false, "zero": false},
                 "axis": {"orient": "bottom", "values": [720,780,840,900,960,1020,1080,1140,1200], "labels": false, "title": null}},
           "y": {"field": "v", "type": "quantitative", "scale": {"domain": [0, 8], "nice": false, "zero": false},
                 "axis": {"orient": "left", "values": [0,5], "title": ["OMNI", "Pd [nPa]"]}}
         }},
        {"data": {"name": "omniEvents"}, "mark": {"type": "point", "opacity": 0},
         "encoding": {
           "x": {"field": "t", "type": "quantitative", "axis": {"orient": "bottom", "values": [730,740,750,760,770,790,800,810,820,830,850,860,870,880,890,910,920,930,940,950,970,980,990,1000,1010,1030,1040,1050,1060,1070,1090,1100,1110,1120,1130,1150,1160,1170,1180,1190], "labels": false, "domain": false, "title": null, "tickSize": 4, "tickWidth": 1.5}},
           "y": {"datum": 1, "type": "quantitative", "axis": {"orient": "left", "values": [1,2,3,4,6,7], "labels": false, "domain": false, "title": null, "tickSize": 4, "tickWidth": 1.5}}
         }},
        {"data": {"name": "omniEvents"}, "mark": {"type": "rule", "strokeDash": [6, 4], "strokeWidth": 1.5, "color": "black"},
         "encoding": {"x": {"field": "t", "type": "quantitative", "axis": null}}}
      ]
    },
    {
      "width": 906, "height": 154,
      "resolve": {"axis": {"x": "independent", "y": "independent"}},
      "layer": [
        {"data": {"name": "symh"}, "mark": {"type": "line", "strokeWidth": 2, "color": "black", "clip": true},
         "encoding": {
           "x": {"field": "t", "type": "quantitative", "scale": {"domain": [720, 1200], "nice": false, "zero": false},
                 "axis": {"orient": "bottom", "values": [720,780,840,900,960,1020,1080,1140,1200], "labels": false, "title": null}},
           "y": {"field": "v", "type": "quantitative", "scale": {"domain": [-30, 10], "nice": false, "zero": false},
                 "axis": {"orient": "left", "values": [-20,0], "title": "SYM-H [nT]"}}
         }},
        {"data": {"name": "omniEvents"}, "mark": {"type": "point", "opacity": 0},
         "encoding": {
           "x": {"field": "t", "type": "quantitative", "axis": {"orient": "bottom", "values": [730,740,750,760,770,790,800,810,820,830,850,860,870,880,890,910,920,930,940,950,970,980,990,1000,1010,1030,1040,1050,1060,1070,1090,1100,1110,1120,1130,1150,1160,1170,1180,1190], "labels": false, "domain": false, "title": null, "tickSize": 4, "tickWidth": 1.5}},
           "y": {"datum": 0, "type": "quantitative", "axis": {"orient": "left", "values": [-25,-15,-10,-5,5], "labels": false, "domain": false, "title": null, "tickSize": 4, "tickWidth": 1.5}}
         }},
        {"data": {"name": "omniEvents"}, "mark": {"type": "rule", "strokeDash": [6, 4], "strokeWidth": 1.5, "color": "black"},
         "encoding": {"x": {"field": "t", "type": "quantitative", "axis": null}}}
      ]
    },
    {
      "width": 906, "height": 154,
      "resolve": {"axis": {"x": "independent", "y": "independent"}},
      "layer": [
        {"data": {"name": "aceB"}, "mark": {"type": "line", "strokeWidth": 2, "clip": true},
         "encoding": {
           "x": {"field": "t", "type": "quantitative", "scale": {"domain": [720, 1200], "nice": false, "zero": false},
                 "axis": {"orient": "bottom", "values": [720,780,840,900,960,1020,1080,1140,1200], "labels": false, "title": null}},
           "y": {"field": "v", "type": "quantitative", "scale": {"domain": [-6, 6], "nice": false, "zero": false},
                 "axis": {"orient": "left", "values": [-5,0,5], "title": ["ACE", "B GSE [nT]"]}},
           "color": {"field": "s", "type": "nominal", "scale": {"domain": ["Bx", "By", "Bz"], "range": ["#0040ff", "#008000", "#ff0000"]},
                     "legend": {"orient": "top-left", "offset": 8, "title": null, "symbolType": "M-1.42,0H1.42", "symbolSize": 961, "symbolStrokeWidth": 3, "symbolOffset": 11.5, "labelOffset": 17, "labelFontSize": 20, "labelFont": "DejaVu Sans", "labelColor": "black", "rowPadding": 4, "padding": 5, "fillColor": "rgba(255,255,255,0.8)", "strokeColor": "#cccccc", "cornerRadius": 4}}
         }},
        {"data": {"name": "aceEvents"}, "mark": {"type": "point", "opacity": 0},
         "encoding": {
           "x": {"field": "t", "type": "quantitative", "axis": {"orient": "bottom", "values": [730,740,750,760,770,790,800,810,820,830,850,860,870,880,890,910,920,930,940,950,970,980,990,1000,1010,1030,1040,1050,1060,1070,1090,1100,1110,1120,1130,1150,1160,1170,1180,1190], "labels": false, "domain": false, "title": null, "tickSize": 4, "tickWidth": 1.5}},
           "y": {"datum": 0, "type": "quantitative", "axis": {"orient": "left", "values": [-4,-3,-2,-1,1,2,3,4], "labels": false, "domain": false, "title": null, "tickSize": 4, "tickWidth": 1.5}}
         }},
        {"data": {"name": "aceEvents"}, "mark": {"type": "rule", "strokeDash": [6, 4], "strokeWidth": 1.5, "color": "black"},
         "encoding": {"x": {"field": "t", "type": "quantitative", "axis": null}}}
      ]
    },
    {
      "width": 906, "height": 154,
      "resolve": {"axis": {"x": "independent", "y": "independent"}},
      "layer": [
        {"data": {"name": "acePd"}, "mark": {"type": "line", "strokeWidth": 2, "color": "black", "clip": true},
         "encoding": {
           "x": {"field": "t", "type": "quantitative", "scale": {"domain": [720, 1200], "nice": false, "zero": false},
                 "axis": {"orient": "bottom", "values": [720,780,840,900,960,1020,1080,1140,1200], "title": "UT [hh:mm]", "titlePadding": 12,
                          "labelExpr": "floor(datum.value / 60) + ':00'"}},
           "y": {"field": "v", "type": "quantitative", "scale": {"domain": [0, 6], "nice": false, "zero": false},
                 "axis": {"orient": "left", "values": [0,5], "title": ["ACE", "Pd [nPa]"]}}
         }},
        {"data": {"name": "aceEvents"}, "mark": {"type": "point", "opacity": 0},
         "encoding": {
           "x": {"field": "t", "type": "quantitative", "axis": {"orient": "bottom", "values": [730,740,750,760,770,790,800,810,820,830,850,860,870,880,890,910,920,930,940,950,970,980,990,1000,1010,1030,1040,1050,1060,1070,1090,1100,1110,1120,1130,1150,1160,1170,1180,1190], "labels": false, "domain": false, "title": null, "tickSize": 4, "tickWidth": 1.5}},
           "y": {"datum": 1, "type": "quantitative", "axis": {"orient": "left", "values": [1,2,3,4], "labels": false, "domain": false, "title": null, "tickSize": 4, "tickWidth": 1.5}}
         }},
        {"data": {"name": "aceEvents"}, "mark": {"type": "rule", "strokeDash": [6, 4], "strokeWidth": 1.5, "color": "black"},
         "encoding": {"x": {"field": "t", "type": "quantitative", "axis": null}}},
        {"data": {"name": "aceEvents"}, "mark": {"type": "text", "align": "right", "baseline": "middle", "dx": -8, "fontSize": 26, "font": "DejaVu Sans", "color": "black"},
         "encoding": {"x": {"field": "t", "type": "quantitative", "axis": null}, "y": {"datum": 4.9, "type": "quantitative", "axis": null}, "text": {"field": "lab"}}}
      ]
    }
  ]
}
